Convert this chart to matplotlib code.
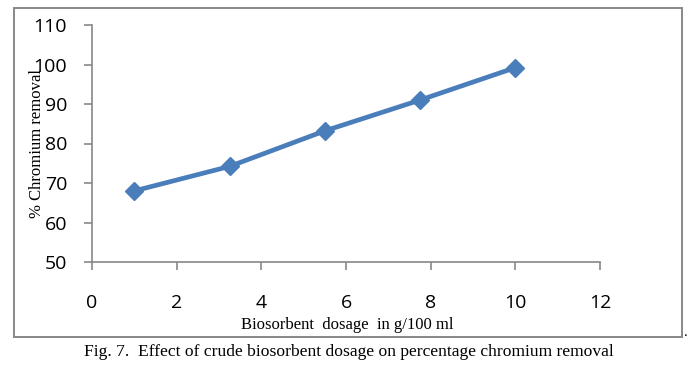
import matplotlib
matplotlib.use("Agg")
import matplotlib.pyplot as plt
from matplotlib.patches import Rectangle

# biosorbent dosage (g/100 ml) vs % chromium removal
dosage = [1, 3.25, 5.5, 7.75, 10]
removal = [68.0, 74.2, 83.2, 91.0, 99.2]

x_ticks = [0, 2, 4, 6, 8, 10, 12]
y_ticks = [50, 60, 70, 80, 90, 100, 110]

fig = plt.figure(figsize=(6.97, 3.70), dpi=100)
ax = fig.add_axes([92 / 697, 1 - 262 / 370, (600 - 92) / 697, (262 - 25) / 370])

ax.plot(dosage, removal, "-D", color="#4a7ebb", lw=3.4, ms=9,
        markeredgecolor="#4a7ebb", solid_capstyle="round")

ax.set_xlim(0, 12)
ax.set_ylim(50, 110)
ax.set_xticks(x_ticks)
ax.set_yticks(y_ticks)

for s in ("top", "right"):
    ax.spines[s].set_visible(False)
for s in ("left", "bottom"):
    ax.spines[s].set_color("#888888")
    ax.spines[s].set_linewidth(1.2)

ax.tick_params(axis="both", colors="#888888", length=6, width=1.2,
               labelcolor="black", labelsize=14)
ax.tick_params(axis="x", pad=17)
ax.tick_params(axis="y", pad=12)
for lab in ax.get_xticklabels() + ax.get_yticklabels():
    lab.set_family("Open Sans")

ax.set_ylabel("% Chromium removal", family="Liberation Serif", fontsize=12)
ax.yaxis.set_label_coords(-(92 - 45) / 508, 0.5)
ax.set_xlabel("Biosorbent  dosage  in g/100 ml", family="Liberation Serif",
              fontsize=12)
ax.xaxis.set_label_coords(255 / 508, -(317 - 262) / 237)

# outer chart border
fig.patches.append(Rectangle((14 / 697, 1 - 337 / 370), (682 - 14) / 697,
                             (337 - 8) / 370, transform=fig.transFigure,
                             fill=False, ec="#888888", lw=1.4))

fig.text(686 / 697, 1 - 333 / 370, ".", family="Liberation Serif",
         fontsize=11, ha="center", va="center")
fig.text(349 / 697, 1 - 352 / 370,
         "Fig. 7.  Effect of crude biosorbent dosage on percentage chromium removal",
         family="Liberation Serif", fontsize=12.6, ha="center", va="center")

fig.savefig("out.png", dpi=100)
